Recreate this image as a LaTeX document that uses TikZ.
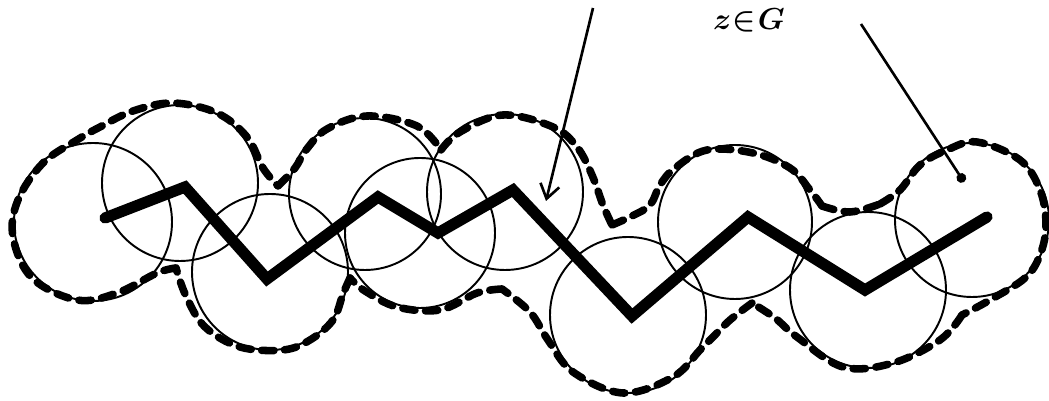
\documentclass[tikz,border=0pt]{standalone}
\usepackage{bm}
\usetikzlibrary{arrows.meta}
\begin{document}
\begin{tikzpicture}[x=0.02cm,y=-0.02cm,
  ring/.style={line width=1.1pt},
  rim/.style={line width=4.3pt, dash pattern=on 7pt off 6pt, line cap=round, line join=round},
  spine/.style={line width=6.4pt, line cap=round, line join=miter},
  pointer/.style={line width=1.5pt},
  tag/.style={inner sep=0pt, font=\fontsize{19}{22}\selectfont}]
\useasboundingbox (0,0) rectangle (1049,401);
% circle centres
\coordinate (c1) at (93,222);
\coordinate (c2) at (180,183);
\coordinate (c3) at (270,272);
\coordinate (c4) at (365,194);
\coordinate (c5) at (420,233);
\coordinate (c6) at (505,192);
\coordinate (c7) at (628,315);
\coordinate (c8) at (735,222);
\coordinate (c9) at (868,290);
\coordinate (c10) at (972,220);
\draw[ring] (c1) circle[radius=79];
\draw[ring] (c2) circle[radius=78];
\draw[ring] (c3) circle[radius=78];
\draw[ring] (c4) circle[radius=76];
\draw[ring] (c5) circle[radius=75];
\draw[ring] (c6) circle[radius=78];
\draw[ring] (c7) circle[radius=78];
\draw[ring] (c8) circle[radius=77];
\draw[ring] (c9) circle[radius=78];
\draw[ring] (c10) circle[radius=77];
% outer dashed boundary
\draw[rim] plot[smooth, tension=0.6] coordinates {(176,268) (157,273) (117,293) (77,300) (32,278) (13,237) (18,200) (43,163) (77,140) (100,127) (133,111) (173,103) (217,113) (247,137) (263,168) (277,185)};
\draw[rim] plot[smooth, tension=0.6] coordinates {(278,186) (295,168) (306,150) (327,129) (367,116) (417,126) (441,150)};
\draw[rim] plot[smooth, tension=0.6] coordinates {(441,150) (460,132) (503,115) (553,127) (577,147) (592,175) (603,205) (612,225)};
\draw[rim] plot[smooth, tension=0.6] coordinates {(612,225) (632,216) (650,205) (660,185) (675,168) (707,150) (753,153) (790,168) (810,190) (822,206)};
\draw[rim] plot[smooth, tension=0.6] coordinates {(822,206) (850,212) (880,204)};
\draw[rim] plot[smooth, tension=0.6] coordinates {(880,204) (900,190) (920,165) (947,150) (977,142) (1020,160) (1040,190) (1046,225) (1040,255) (1025,278) (990,300) (962,315)};
\draw[rim] plot[smooth, tension=0.6] coordinates {(962,315) (940,340) (893,363) (843,367) (797,337) (775,318) (752,303)};
\draw[rim] plot[smooth, tension=0.6] coordinates {(752,303) (730,320) (713,337) (700,350) (673,377) (623,393) (573,372) (548,340) (530,312) (502,289)};
\draw[rim] plot[smooth, tension=0.6] coordinates {(502,289) (477,293) (440,310) (397,307) (365,291) (350,278)};
\draw[rim] plot[smooth, tension=0.6] coordinates {(350,278) (343,294) (333,320) (310,340) (283,350) (240,347) (205,327) (186,296) (176,268)};
% zigzag path
\coordinate (p1) at (105,218);
\coordinate (p2) at (185,187);
\coordinate (p3) at (267,279);
\coordinate (p4) at (378,197);
\coordinate (p5) at (438,233);
\coordinate (p6) at (513,190);
\coordinate (p7) at (632,316);
\coordinate (p8) at (748,217);
\coordinate (p9) at (865,290);
\coordinate (p10) at (987,217);
\draw[spine] (p1) -- (p2) -- (p3) -- (p4) -- (p5) -- (p6) -- (p7) -- (p8) -- (p9) -- (p10);
% label and pointers
\node[tag] (lab) at (749,20) {$\bm{z\mkern1mu{\in}\mkern1mu G}$};
\coordinate (a1s) at (593,8);
\coordinate (a1e) at (546,201);
\draw[pointer,-{Straight Barb[length=8pt,width=11pt]}] (a1s) -- (a1e);
\coordinate (a2s) at (861,24);
\coordinate (a2e) at (964,182);
\draw[pointer,-{Circle[length=5.5pt]}] (a2s) -- (a2e);
\end{tikzpicture}
\end{document}
